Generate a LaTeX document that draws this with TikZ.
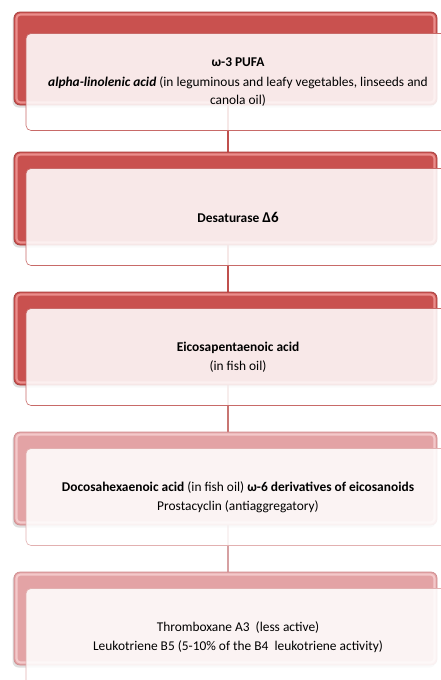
\documentclass[tikz,border=0pt]{standalone}
\usepackage{fontspec}
\setmainfont{Carlito}
\usetikzlibrary{shadows}
\definecolor{redfill}{HTML}{C9514F}
\definecolor{redhl}{HTML}{EA8E8C}
\definecolor{redline}{HTML}{A8403E}
\definecolor{pinkfill}{HTML}{E3A3A5}
\definecolor{pinkhl}{HTML}{F3C9CA}
\definecolor{pinkline}{HTML}{CF8E90}
\definecolor{frontred}{HTML}{C86A68}
\definecolor{frontpink}{HTML}{E2B0B0}
\definecolor{linkred}{HTML}{C0504D}
\definecolor{linkmid}{HTML}{C87572}
\definecolor{linkpink}{HTML}{D6A0A2}
\begin{document}
\begin{tikzpicture}[x=1pt,y=-1pt,
  tabbase/.style={rectangle, rounded corners=6pt, minimum width=423pt, minimum height=93pt, inner sep=0pt, line width=0.7pt,
    drop shadow={shadow xshift=-1.5pt, shadow yshift=-2.5pt, opacity=0.25}},
  tabred/.style={tabbase, draw=redline, fill=redfill},
  tabpink/.style={tabbase, draw=pinkline, fill=pinkfill},
  hlred/.style={draw=redhl, line width=2.2pt, rounded corners=4pt},
  hlpink/.style={draw=pinkhl, line width=2.2pt, rounded corners=4pt},
  frontbase/.style={rectangle, rounded corners=5pt, minimum width=424pt, minimum height=97pt, inner sep=2pt,
    fill=white, fill opacity=0.87, text opacity=1, line width=0.6pt, align=center,
    font=\fontsize{13.4}{20}\selectfont, text=black},
  frontred/.style={frontbase, draw=frontred},
  frontpink/.style={frontbase, draw=frontpink},
  link/.style={line width=1.3pt}
]
\useasboundingbox (0,0) rectangle (440,680);

% connectors (behind everything)
\coordinate (c1) at (228,76);
\coordinate (c2) at (228,216);
\coordinate (c3) at (228,356);
\coordinate (c4) at (228,496);
\coordinate (c5) at (228,636);
\draw[link, linkred] (c1) -- (c2);
\draw[link, linkred] (c2) -- (c3);
\draw[link, linkmid] (c3) -- (c4);
\draw[link, linkpink] (c4) -- (c5);

% back tabs
\node[tabred]  (t1) at (225.5,58.5) {};
\node[tabred]  (t2) at (225.5,198.5) {};
\node[tabred]  (t3) at (225.5,338.5) {};
\node[tabpink] (t4) at (225.5,478.5) {};
\node[tabpink] (t5) at (225.5,618.5) {};
\foreach \t/\s in {t1/hlred,t2/hlred,t3/hlred,t4/hlpink,t5/hlpink}{
  \draw[\s] ([shift={(2.8pt,-2.8pt)}]\t.north west) rectangle ([shift={(-2.8pt,2.8pt)}]\t.south east);
}

% front boxes
\node[frontred] (f1) at (238,82) {{\bfseries ω-3 PUFA}\\
  {\bfseries\itshape alpha-linolenic acid} (in leguminous and leafy vegetables, linseeds and\\[-2pt]
  canola oil)};
\node[frontred] (f2) at (238,217) {{\bfseries Desaturase \fontsize{15}{20}\selectfont Δ6}};
\node[frontred] (f3) at (238,357) {{\bfseries Eicosapentaenoic acid}\\[-1pt] (in fish oil)};
\node[frontpink] (f4) at (238,497) {{\bfseries Docosahexaenoic acid} (in fish oil) {\bfseries ω-6 derivatives of eicosanoids}\\[-1pt]
  Prostacyclin (antiaggregatory)};
\node[frontpink] (f5) at (238,637) {Thromboxane A3~~(less active)\\[-1pt]
  Leukotriene B5 (5-10\% of the B4~~leukotriene activity)};
\end{tikzpicture}
\end{document}
